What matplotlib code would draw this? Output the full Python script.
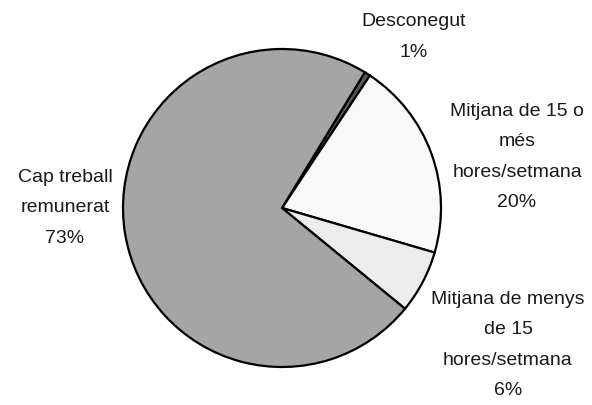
import matplotlib
matplotlib.use('Agg')
import matplotlib.pyplot as plt

#Data (clockwise from the top)
labels = ['Desconegut', 'Mitjana de 15 o\nmés\nhores/setmana',
          'Mitjana de menys\nde 15\nhores/setmana', 'Cap treball\nremunerat']
shares = [0.6, 20.2, 6.4, 72.8]
pct_text = ['1%', '20%', '6%', '73%']

cols = ['#595959', '#f8f8f8', '#ececec', '#a5a5a5']

#Label centres (pixel coords of the image)
lab_px = [(414, 37), (517, 157), (508, 345), (65, 208)]

W, H = 592, 405
cx, cy, r = 282, 208, 159

fig = plt.figure(figsize=(W/100, H/100), dpi=100)
ax = fig.add_axes([(cx-r)/W, (H-cy-r)/H, 2*r/W, 2*r/H])

ax.pie(shares, colors=cols, startangle=58.6, counterclock=False,
       wedgeprops=dict(edgecolor='black', linewidth=1.6))
ax.set_xlim(-1, 1)
ax.set_ylim(-1, 1)
ax.set_aspect('equal')
ax.axis('off')

for lab, p, (px, py) in zip(labels, pct_text, lab_px):
    x = (px - cx) / r
    y = (cy - py) / r
    ax.text(x, y, lab + '\n' + p, ha='center', va='center', fontsize=14,
            linespacing=2.05, family=['Liberation Sans', 'DejaVu Sans'],
            color='#1a1a1a', clip_on=False)

plt.savefig('out.png', dpi=100)
